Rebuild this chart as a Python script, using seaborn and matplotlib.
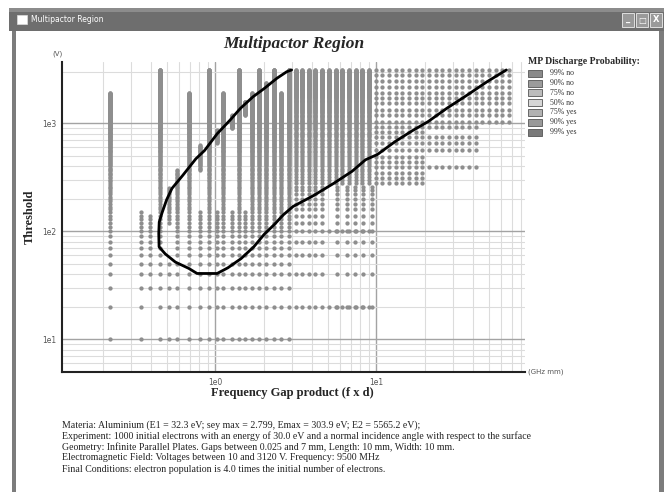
import numpy as np
import pandas as pd
import matplotlib
matplotlib.use("Agg")
import matplotlib.pyplot as plt
import seaborn as sns
from matplotlib.patches import Rectangle
from matplotlib.ticker import FixedLocator, NullFormatter

# ---------------- data ----------------
# left columns (f x d in GHz mm), sampled every 10 V
left_x = [0.223, 0.347, 0.395, 0.455, 0.518, 0.581, 0.690, 0.807, 0.918, 1.029,
          1.121, 1.275, 1.410, 1.536, 1.697, 1.876, 2.074, 2.325, 2.570, 2.882]
left_segments = [[(10, 1900)], [(10, 150)], [(30, 140)], [(10, 3120)],
                 [(10, 50), (120, 250)], [(10, 370)], [(10, 1900)],
                 [(10, 150), (370, 630)], [(10, 3120)], [(10, 150), (660, 860)],
                 [(10, 1900)], [(10, 150), (900, 1190)], [(10, 3120)],
                 [(10, 150), (1190, 1590)], [(10, 1900)], [(10, 3120)],
                 [(10, 2350)], [(10, 3120)], [(10, 1900)], [(10, 3120)]]
left_step = 10

# middle columns, sampled every 20 V
mid_x = [3.185, 3.471, 3.836, 4.180, 4.619, 5.107, 5.644, 6.150, 6.797, 7.512, 8.185, 9.046]
mid_segments = [[(20, 3120)]] * 5 + [[(20, 20), (100, 100), (280, 3120)]] * 7
mid_step = 20
sparse_x = [5.69, 6.57, 7.43, 8.34, 9.40]
sparse_segment = (20, 260)

# right columns, sampled on coarse voltage rows
right_x = [10.0, 10.9, 12.04, 13.31, 14.5, 16.03, 17.72, 19.31, 21.34, 23.59, 25.7,
           28.41, 31.4, 34.21, 37.81, 41.8, 45.54, 50.33, 55.63, 60.61, 67.0]
right_rows_v = [3120, 2800, 2480, 2180, 1900, 1700, 1530, 1330, 1190, 1035, 930,
                836, 752, 661, 566, 491, 441, 396, 344, 310, 278]
right_rows_xmax = [67.0] * 10 + [41.8, 19.31, 41.8, 41.8, 41.8, 19.31, 19.31, 41.8,
                                 19.31, 19.31, 19.31]

# multipactor boundary curve
curve_x = [2.99, 2.79, 2.42, 2.02, 1.72, 1.44, 1.24, 1.03, 0.86, 0.76, 0.63, 0.54,
           0.50, 0.468, 0.450, 0.447, 0.449, 0.49, 0.567, 0.686, 0.773, 1.03, 1.2,
           1.45, 1.74, 2.02, 2.35, 2.65, 3.05, 4.1, 5.45, 7.1, 8.6, 10.2, 13.1,
           16.7, 21.0, 27.5, 36.7, 49.0, 64.5]
curve_v = [3120, 3006, 2610, 2100, 1760, 1380, 1072, 800, 560, 470, 330, 250,
           196, 148, 122, 96, 72, 62, 52, 45.5, 40.8, 40.8, 46, 56, 72, 94, 117,
           142, 170, 215, 278, 360, 460, 515, 676, 850, 1035, 1377, 1820, 2430, 3120]

legend_title = "MP Discharge Probability:"
legend_labels = ["99% no", "90% no", "75% no", "50% no", "75% yes", "90% yes", "99% yes"]
legend_colors = ["#8a8a8a", "#9b9b9b", "#bcbcbc", "#d6d6d6", "#b2b2b2", "#999999", "#7a7a7a"]

x_tick_values = [1, 10]
x_tick_labels = ["1e0", "1e1"]
x_minor = [0.2, 0.3, 0.4, 0.5, 0.6, 0.7, 0.8, 0.9, 2, 3, 4, 5, 6, 7, 8, 9,
           20, 30, 40, 50, 60, 70, 80]
y_tick_values = [10, 100, 1000]
y_tick_labels = ["1e1", "1e2", "1e3"]
y_minor = [6, 7, 8, 9, 20, 30, 40, 50, 60, 70, 80, 90,
           200, 300, 400, 500, 600, 700, 800, 900, 3000]

info_lines = [
    "Materia: Aluminium (E1 = 32.3 eV; sey max = 2.799, Emax = 303.9 eV; E2 = 5565.2 eV);",
    "Experiment: 1000 initial electrons with an energy of 30.0 eV and a normal incidence angle with respect to the surface",
    "Geometry: Infinite Parallel Plates. Gaps between 0.025 and 7 mm, Length: 10 mm, Width: 10 mm.",
    "Electromagnetic Field: Voltages between 10 and 3120 V. Frequency: 9500 MHz",
    "Final Conditions: electron population is 4.0 times the initial number of electrons.",
]

# ---------------- build point table ----------------
pts = []
for x, segs in zip(left_x, left_segments):
    for lo, hi in segs:
        for v in range(lo, hi + 1, left_step):
            pts.append((x, v))
for x, segs in zip(mid_x, mid_segments):
    for lo, hi in segs:
        for v in range(lo, hi + 1, mid_step):
            pts.append((x, v))
for x in sparse_x:
    for v in range(sparse_segment[0], sparse_segment[1] + 1, mid_step):
        pts.append((x, v))
for v, xmax in zip(right_rows_v, right_rows_xmax):
    for x in right_x:
        if x <= xmax + 1e-9:
            pts.append((x, v))
dots = pd.DataFrame(pts, columns=["fd", "volt"])
curve = pd.DataFrame({"fd": curve_x, "volt": curve_v, "order": range(len(curve_x))})

# ---------------- figure ----------------
sns.set_style("white")
plt.rcParams["font.family"] = ["Liberation Serif", "DejaVu Serif"]
W, H = 669, 492
fig = plt.figure(figsize=(W / 100, H / 100), dpi=100)
fig.patch.set_facecolor("white")


def fx(px):
    return px / W


def fy(py):
    return 1 - py / H


# window chrome
fig.add_artist(Rectangle((fx(9), fy(31)), fx(664) - fx(9), fy(8) - fy(31),
                         transform=fig.transFigure, facecolor="#6e6e6e", edgecolor="none"))
fig.add_artist(Rectangle((fx(9), fy(12)), fx(664) - fx(9), fy(8) - fy(12),
                         transform=fig.transFigure, facecolor="#8c8c8c", edgecolor="none"))
fig.add_artist(Rectangle((fx(12), fy(H)), fx(16) - fx(12), fy(31) - fy(H),
                         transform=fig.transFigure, facecolor="#7c7c7c", edgecolor="none"))
fig.add_artist(Rectangle((fx(659), fy(H)), fx(664) - fx(659), fy(31) - fy(H),
                         transform=fig.transFigure, facecolor="#7c7c7c", edgecolor="none"))
fig.add_artist(Rectangle((fx(17), fy(24)), fx(10) - fx(0), fy(15) - fy(24),
                         transform=fig.transFigure, facecolor="white", edgecolor="#dddddd", lw=0.5))
fig.text(fx(31), fy(19.5), "Multipactor Region", color="white", fontsize=5.5,
         family=["DejaVu Sans"], ha="left", va="center")
for bx, glyph in zip([622, 636, 650], ["_", "□", "X"]):
    fig.add_artist(Rectangle((fx(bx), fy(27)), fx(12) - fx(0), fy(13) - fy(27),
                             transform=fig.transFigure, facecolor="#9a9a9a",
                             edgecolor="#eeeeee", lw=0.6))
    fig.text(fx(bx + 6), fy(20), glyph, color="white", fontsize=6, fontweight="bold",
             family=["DejaVu Sans"], ha="center", va="center")

ax = fig.add_axes([fx(62), fy(372), fx(525) - fx(62), fy(62) - fy(372)])
ax.set_facecolor("white")

sns.scatterplot(data=dots, x="fd", y="volt", color="#8e8e8e", s=9.5, linewidth=0,
                marker="o", ax=ax, legend=False, zorder=3)
sns.lineplot(data=curve, x="fd", y="volt", sort=False, estimator=None, color="black",
             lw=2.0, ax=ax, zorder=5)

ax.set_xscale("log")
ax.set_yscale("log")
ax.set_xlim(0.112, 84.2)
ax.set_ylim(5, 3695)
ax.set_xticks(x_tick_values)
ax.set_xticklabels(x_tick_labels)
ax.set_yticks(y_tick_values)
ax.set_yticklabels(y_tick_labels)
ax.xaxis.set_minor_locator(FixedLocator(x_minor))
ax.yaxis.set_minor_locator(FixedLocator(y_minor))
ax.xaxis.set_minor_formatter(NullFormatter())
ax.yaxis.set_minor_formatter(NullFormatter())
ax.tick_params(which="both", length=0, labelsize=5.5, colors="#555555", pad=4)
for lab in ax.get_xticklabels() + ax.get_yticklabels():
    lab.set_family(["DejaVu Sans"])
ax.set_axisbelow(True)
ax.grid(which="major", color="#a3a3a3", lw=1.0)
ax.grid(which="minor", color="#dcdcdc", lw=0.8)
for s in ["top", "right"]:
    ax.spines[s].set_visible(False)
for s in ["left", "bottom"]:
    ax.spines[s].set_color("#222222")
    ax.spines[s].set_linewidth(1.5)

ax.set_title("Multipactor Region", fontsize=12.5, fontweight="bold", fontstyle="italic", pad=10)
ax.set_xlabel("Frequency Gap product (f x d)", fontsize=9, fontweight="bold")
ax.set_ylabel("Threshold", fontsize=9, fontweight="bold")
ax.xaxis.set_label_coords((292 - 62) / 463, (372 - 387) / 310)
ax.yaxis.set_label_coords((36 - 62) / 463, 0.5)

fig.text(fx(57.5), fy(54), "(V)", fontsize=5, family=["DejaVu Sans"], color="#555555",
         ha="center", va="center")
fig.text(fx(528), fy(371.5), "(GHz mm)", fontsize=5, family=["DejaVu Sans"],
         color="#555555", ha="left", va="center")

# legend
fig.text(fx(528), fy(62), legend_title, fontsize=7, fontweight="bold", ha="left", va="center")
for i, (lab, col) in enumerate(zip(legend_labels, legend_colors)):
    cy = 73.3 + i * 9.8
    fig.add_artist(Rectangle((fx(527.5), fy(cy + 3.5)), fx(14) - fx(0), fy(0) - fy(7),
                             transform=fig.transFigure, facecolor=col,
                             edgecolor="#555555", lw=0.6))
    fig.text(fx(550), fy(cy), lab, fontsize=5.6, ha="left", va="center", color="#333333")

for i, line in enumerate(info_lines):
    fig.text(fx(62), fy(425 + i * 11), line, fontsize=7.1, ha="left", va="center",
             color="#222222")

fig.savefig("out.png", dpi=100, facecolor="white")
